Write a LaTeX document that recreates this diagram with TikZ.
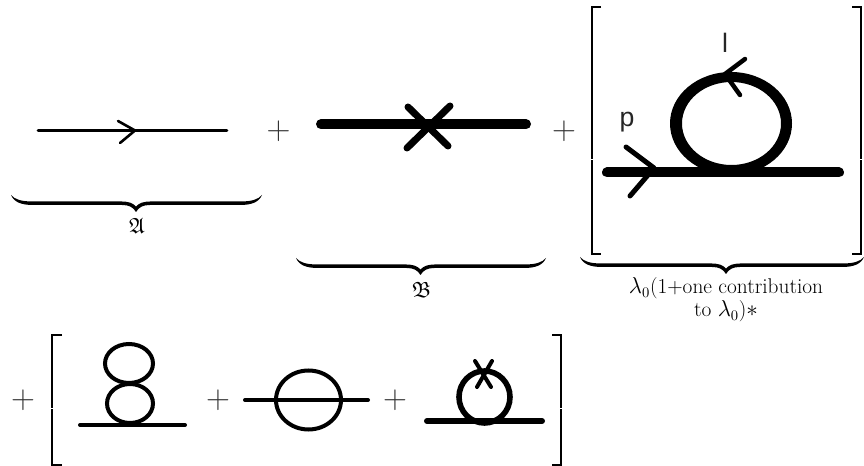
\documentclass[tikz,border=0pt]{standalone}
\usepackage{amssymb}
\usepackage{fontspec}
\newfontfamily\labelfont{Liberation Sans}
\tikzset{
  x=0.75pt,y=-0.75pt,
  ln/.style={line width=#1*0.75pt,line cap=round,line join=round,black},
  brk/.style={line width=2pt,black},
  plusn/.style={inner sep=0pt,font=\fontsize{24}{28}\selectfont,text=black!80},
  lab/.style={inner sep=0pt,align=center,font=\fontsize{16}{15.8}\selectfont},
  frak/.style={inner sep=0pt,font=\fontsize{16.5}{18}\selectfont},
  hand/.style={inner sep=0pt,font=\labelfont\fontsize{20}{22}\selectfont,text=black!85},
}
\newcommand{\mybrace}[4]{% left, right, top y, tip x
  \fill[black] (#1,#3) .. controls (#1+3,#3+7) and (#1+10,#3+10) .. (#1+22,#3+10)
    -- (#4-14,#3+10) .. controls (#4-7,#3+10) and (#4-3,#3+12) .. (#4,#3+17)
    .. controls (#4+3,#3+12) and (#4+7,#3+10) .. (#4+14,#3+10)
    -- (#2-22,#3+10) .. controls (#2-10,#3+10) and (#2-3,#3+7) .. (#2,#3)
    .. controls (#2-4,#3+4.5) and (#2-10,#3+6.5) .. (#2-22,#3+6.5)
    -- (#4+14,#3+6.5) .. controls (#4+8,#3+6.5) and (#4+3,#3+8) .. (#4,#3+11.5)
    .. controls (#4-3,#3+8) and (#4-8,#3+6.5) .. (#4-14,#3+6.5)
    -- (#1+22,#3+6.5) .. controls (#1+10,#3+6.5) and (#1+4,#3+4.5) .. (#1,#3) -- cycle;}
\begin{document}
\begin{tikzpicture}
\useasboundingbox (0,0) rectangle (864,466);
% row 1, diagram A
\draw[ln=2.6] (38,130.5) -- (227,130.5);
\draw[ln=2.6] (118,121) -- (135,130.5) -- (120,143);
\node[plusn] (p1) at (278.5,131) {$+$};
% diagram B
\draw[ln=10] (321,124.3) -- (526,124.3);
\draw[ln=7] (408,107) -- (448,146);
\draw[ln=7] (450,106) -- (407,148);
\node[plusn] (p2) at (564,131) {$+$};
% bracket
\draw[brk] (601,7) -- (592,7) -- (592,159.5);
\draw[brk] (592,160.5) -- (592,254) -- (601,254);
\draw[brk] (852,7) -- (861,7) -- (861,159.5);
\draw[brk] (861,160.5) -- (861,254) -- (852,254);
% tadpole
\draw[ln=10] (607,172.5) -- (839,172.5);
\fill[black,even odd rule] (731,123.5) ellipse [x radius=61,y radius=51.5]
  (731.5,123.5) ellipse [x radius=49.5,y radius=41.5];
\draw[ln=5] (626,147) -- (654,168) -- (630,196);
\draw[ln=4.5] (745,59) -- (725,74) -- (740,95);
\node[hand] (pl) at (627,122) {p};
\node[hand] (ll) at (725,43) {l};
% braces
\mybrace{11}{262}{195}{136}
\mybrace{296}{546}{258}{420.5}
\mybrace{580}{864}{257}{726}
\node[frak] (fa) at (137,226) {$\mathfrak{A}$};
\node[frak] (fb) at (421.5,289.5) {$\mathfrak{B}$};
\node[lab] (fc) at (726,300) {$\lambda_0$(1+one contribution\\to $\lambda_0$)$*$};
% row 2
\node[plusn] (p3) at (23,400) {$+$};
\draw[brk] (62,335) -- (52,335) -- (52,408.5);
\draw[brk] (52,409.5) -- (52,465) -- (62,465);
\draw[brk] (552,335) -- (561,335) -- (561,408.5);
\draw[brk] (561,409.5) -- (561,465) -- (552,465);
\draw[line width=3pt] (129,363.5) ellipse [x radius=24,y radius=19.5];
\draw[line width=3pt] (130,403.5) ellipse [x radius=23,y radius=19.5];
\draw[ln=4] (80,425) -- (185,425);
\node[plusn] (p4) at (218,400) {$+$};
\draw[ln=4] (245,400) -- (368,400);
\draw[line width=3pt] (308.5,400) ellipse [x radius=32.5,y radius=29.5];
\node[plusn] (p5) at (395,400) {$+$};
\draw[line width=4.2pt] (484.5,397) ellipse [x radius=25.5,y radius=26];
\draw[ln=6] (427,421) -- (542,421);
\draw[ln=4] (475,361) -- (491,387);
\draw[ln=4] (492,361) -- (477,387);
\end{tikzpicture}
\end{document}
